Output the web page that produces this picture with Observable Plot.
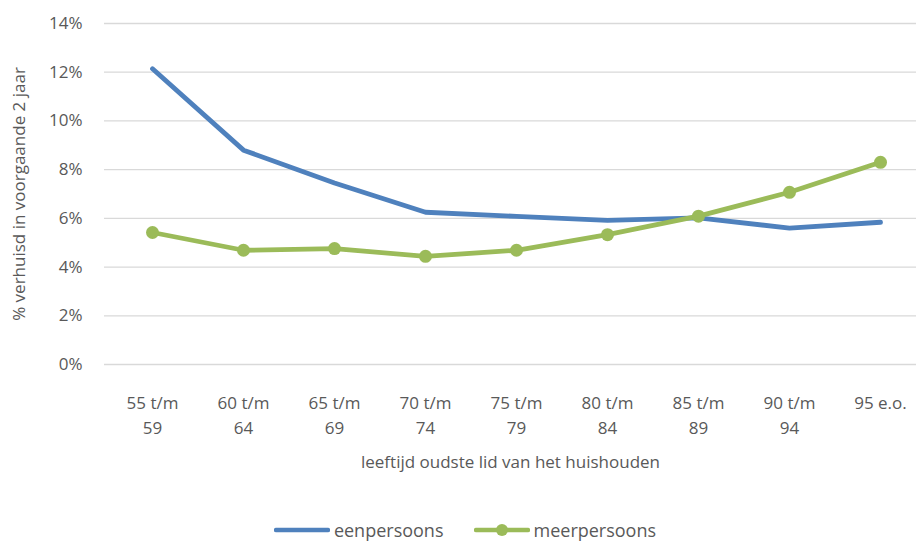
<!DOCTYPE html>
<html>
<head>
<meta charset="utf-8">
<script src="https://cdn.jsdelivr.net/npm/d3@7"></script>
<script src="https://cdn.jsdelivr.net/npm/@observablehq/plot@0.6"></script>
<style>
  html, body { margin: 0; padding: 0; background: #fff; }
  body { width: 916px; height: 541px; overflow: hidden; font-family: "Open Sans", sans-serif; }
  #legend { display: flex; justify-content: center; align-items: center; gap: 30px; height: 30px; margin-top: 25px; padding-left: 14px; font-size: 18px; color: #595959; }
  #legend .item { display: flex; align-items: center; gap: 4px; }
</style>
</head>
<body>
<div id="chart"></div>
<div id="legend"></div>
<script>
const categories = ["55 t/m\n59", "60 t/m\n64", "65 t/m\n69", "70 t/m\n74", "75 t/m\n79", "80 t/m\n84", "85 t/m\n89", "90 t/m\n94", "95 e.o."];
const eenpersoons = [12.14, 8.8, 7.45, 6.25, 6.08, 5.92, 6.02, 5.6, 5.84];
const meerpersoons = [5.42, 4.69, 4.76, 4.44, 4.69, 5.33, 6.09, 7.07, 8.3];
const seriesNames = ["eenpersoons", "meerpersoons"];
const colors = ["#4F81BD", "#9BBB59"];
const yTicks = [0, 2, 4, 6, 8, 10, 12, 14];

const data = [];
categories.forEach((c, i) => {
  data.push({cat: c, series: seriesNames[0], value: eenpersoons[i]});
  data.push({cat: c, series: seriesNames[1], value: meerpersoons[i]});
});

const font = '"Open Sans", sans-serif';
const chart = Plot.plot({
  width: 916,
  height: 490,
  marginTop: 23,
  marginBottom: 126,
  marginLeft: 104,
  marginRight: 0,
  style: {fontFamily: font, fontSize: "17px", color: "#595959", background: "#fff"},
  x: {type: "point", domain: categories, range: [150, 881], padding: 0},
  y: {domain: [0, 14]},
  color: {domain: seriesNames, range: colors},
  marks: [
    Plot.ruleY(yTicks, {stroke: "#d9d9d9", strokeWidth: 1.3}),
    Plot.axisY({ticks: yTicks, tickSize: 0, tickPadding: 22, tickFormat: d => d + "%", fontSize: 17,
      label: "% verhuisd in voorgaande 2 jaar", labelAnchor: "center", labelOffset: 92, labelArrow: false}),
    Plot.axisX({tickSize: 0, tickPadding: 27, fontSize: 17, lineHeight: 1.45,
      label: "leeftijd oudste lid van het huishouden", labelAnchor: "center", labelOffset: 103, labelArrow: false}),
    Plot.line(data, {x: "cat", y: "value", z: "series", stroke: "series", strokeWidth: 4.8, strokeLinejoin: "round", strokeLinecap: "round"}),
    Plot.dot(data.filter(d => d.series === "meerpersoons"), {x: "cat", y: "value", fill: "series", r: 6.5})
  ]
});
document.getElementById("chart").appendChild(chart);

const legend = document.getElementById("legend");
seriesNames.forEach((name, i) => {
  const item = document.createElement("div");
  item.className = "item";
  const marker = i === 1 ? `<circle cx="28" cy="6" r="6" fill="${colors[i]}"/>` : "";
  item.innerHTML = `<svg width="56" height="12"><line x1="2" y1="6" x2="54" y2="6" stroke="${colors[i]}" stroke-width="4.5" stroke-linecap="round"/>${marker}</svg><span>${name}</span>`;
  legend.appendChild(item);
});
</script>
</body>
</html>
